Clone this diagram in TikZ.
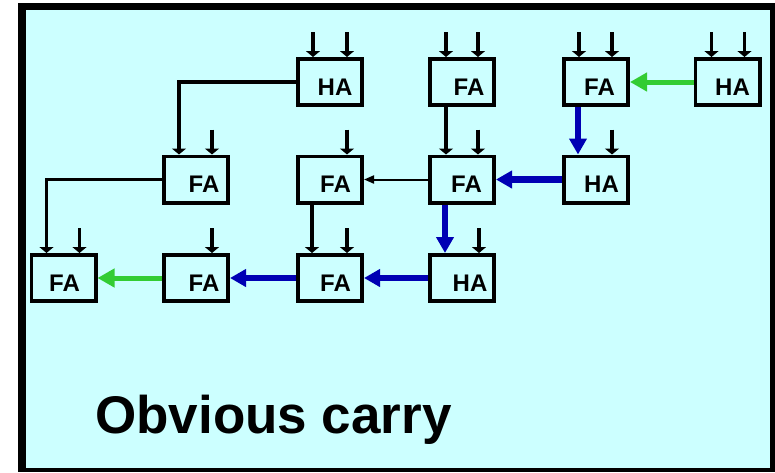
\documentclass[tikz,border=0pt]{standalone}
\usepackage{fontspec}
\setmainfont{Liberation Sans}
\usetikzlibrary{arrows.meta}
\definecolor{bgcyan}{HTML}{CCFFFF}
\definecolor{cblue}{RGB}{0,0,180}
\definecolor{cgreen}{RGB}{51,204,51}
\begin{document}
\begin{tikzpicture}[x=1pt,y=-1pt,
  addbox/.style={draw=black,line width=3.7pt,minimum width=64.3pt,minimum height=46.3pt,
    inner sep=0pt,text height=26pt,font=\fontsize{24}{24}\selectfont\bfseries},
  inarr/.style={draw=black,line width=3.8pt,-{Triangle[width=14pt,length=6pt]}},
  thinarr/.style={draw=black,line width=2pt,-{Triangle[width=8pt,length=10pt]}},
  bluearr/.style={draw=cblue,line width=6.5pt,-{Triangle[width=17pt,length=16pt]}},
  greenarr/.style={draw=cgreen,line width=5pt,-{Triangle[width=18pt,length=17pt]}},
  titlefont/.style={font=\fontsize{53}{53}\selectfont\bfseries}]
\useasboundingbox (0,0) rectangle (775,472);
\fill[white] (0,0) rectangle (775,472);
\fill[black] (18,3) rectangle (775,472);
\fill[bgcyan] (26,10) rectangle (770,468);
% boxes
\node[addbox] (b12) at (330,82) {\hspace*{10pt}HA};
\node[addbox] (b13) at (462,82) {\hspace*{14pt}FA};
\node[addbox] (b14) at (596,82) {\hspace*{7pt}FA};
\node[addbox] (b15) at (727.5,82) {\hspace*{10pt}HA};
\node[addbox] (b21) at (196,179.5) {\hspace*{16pt}FA};
\node[addbox] (b22) at (330,179.5) {\hspace*{11pt}FA};
\node[addbox] (b23) at (462,179.5) {\hspace*{9pt}FA};
\node[addbox] (b24) at (596,179.5) {\hspace*{11pt}HA};
\node[addbox] (b30) at (63.5,278) {\hspace*{2pt}FA};
\node[addbox] (b31) at (196,278) {\hspace*{16pt}FA};
\node[addbox] (b32) at (330,278) {\hspace*{11pt}FA};
\node[addbox] (b33) at (462,278) {\hspace*{16pt}HA};
% input arrows
\foreach \n/\dx in {b12/-17,b12/17,b13/-16,b13/16,b14/-17,b14/16,b15/-16,b15/17,
  b21/16,b22/17,b23/16,b24/16,b30/16,b31/16,b32/17,b33/17}
  \draw[inarr] ([xshift=\dx pt,yshift=25pt]\n.north) -- ([xshift=\dx pt]\n.north);
% black connectors
\draw[inarr] (b12.west) -| ([xshift=-17pt]b21.north);
\draw[inarr] (b21.west) -| ([xshift=-17pt]b30.north);
\draw[inarr] ([xshift=-16pt]b13.south) -- ([xshift=-16pt]b23.north);
\draw[inarr] ([xshift=-18pt]b22.south) -- ([xshift=-18pt]b32.north);
\draw[thinarr] (b23.west) -- (b22.east);
% blue carry chain
\draw[bluearr] ([xshift=-18pt]b14.south) -- ([xshift=-18pt]b24.north);
\draw[bluearr] (b24.west) -- (b23.east);
\draw[bluearr] ([xshift=-17pt]b23.south) -- ([xshift=-17pt]b33.north);
\draw[bluearr] (b33.west) -- (b32.east);
\draw[bluearr] (b32.west) -- (b31.east);
% green
\draw[greenarr] (b31.west) -- (b30.east);
\draw[greenarr] (b15.west) -- (b14.east);
% title
\node[titlefont,anchor=base west,inner sep=0pt] (title) at (95,433) {Obvious carry};
\end{tikzpicture}
\end{document}
